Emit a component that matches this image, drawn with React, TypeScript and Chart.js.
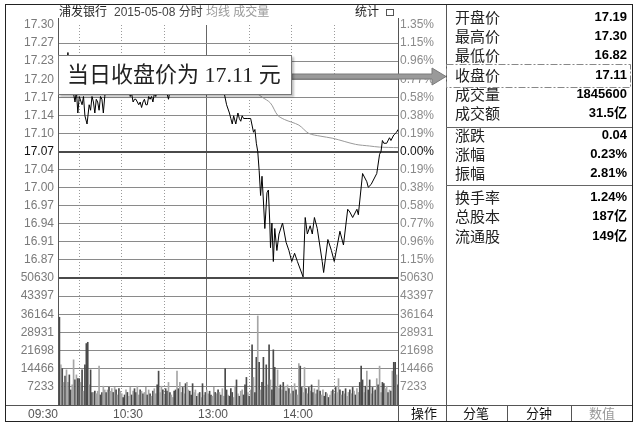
import React, { useEffect, useRef } from 'react';
import { Chart, registerables } from 'chart.js';

Chart.register(...registerables);

const stockName = '浦发银行';
const headerDate = '2015-05-08 分时';
const headerExtra = '均线 成交量';
const headerRight = '统计';
const prevClose = 17.07;
const priceMax = 17.3;
const priceMin = 16.84;
const priceTickLabels = ['17.30', '17.27', '17.23', '17.20', '17.17', '17.14', '17.10', '17.07', '17.04', '17.00', '16.97', '16.94', '16.91', '16.87'];
const pctTickLabels = ['1.35%', '1.15%', '0.96%', '0.77%', '0.58%', '0.38%', '0.19%', '0.00%', '0.19%', '0.38%', '0.58%', '0.77%', '0.96%', '1.15%'];
const volumeMax = 50630;
const volumeTickValues = [50630, 43397, 36164, 28931, 21698, 14466, 7233];
const timeGridMinutes = [0, 30, 60, 90, 120, 150, 180, 210, 240];
const timeTickMinutes = [0, 60, 120, 180];
const timeTickLabels = ['09:30', '10:30', '13:00', '14:00'];

const priceMinutes = [0, 2, 4, 6, 7, 8, 10, 12, 13, 14, 15, 17, 18, 19, 20.5, 22, 23, 24, 25, 26, 27, 28, 29, 30, 31, 32, 33, 34, 36, 38, 40, 43, 46, 49, 50, 51, 52, 53, 54, 55, 56, 57, 58, 59, 60, 61, 62, 63, 64, 65, 66, 67, 68, 69, 70, 73, 76, 78, 79, 82, 86, 90, 94, 98, 102, 106, 110, 114, 117, 119, 121, 122, 123, 124, 125.5, 127, 128, 129, 130, 131, 134, 136, 138, 139, 140, 141, 142, 143, 144, 145, 146, 147.5, 148.5, 149.5, 150, 151, 152, 153, 154.5, 156, 158.5, 161, 163, 165, 167, 169, 173, 174.5, 176, 178, 179.5, 181, 183, 186.5, 187.5, 190.5, 193, 195, 199, 201.5, 204.5, 206, 208, 210, 211, 212, 215, 218, 219, 221, 223, 225, 227, 228, 229, 230, 232, 234, 235, 237, 239, 240];
const priceValues = [17.25, 17.23, 17.21, 17.22, 17.25, 17.22, 17.19, 17.16, 17.18, 17.14, 17.17, 17.155, 17.17, 17.135, 17.12, 17.155, 17.145, 17.17, 17.16, 17.14, 17.165, 17.16, 17.145, 17.17, 17.165, 17.14, 17.17, 17.19, 17.2, 17.19, 17.205, 17.19, 17.2, 17.19, 17.18, 17.17, 17.175, 17.16, 17.165, 17.165, 17.16, 17.155, 17.16, 17.15, 17.16, 17.165, 17.155, 17.155, 17.17, 17.165, 17.17, 17.16, 17.175, 17.17, 17.18, 17.19, 17.185, 17.165, 17.18, 17.19, 17.2, 17.195, 17.2, 17.19, 17.195, 17.2, 17.19, 17.195, 17.18, 17.155, 17.14, 17.13, 17.12, 17.135, 17.12, 17.14, 17.13, 17.125, 17.135, 17.13, 17.13, 17.13, 17.105, 17.11, 17.085, 17.07, 17.035, 16.99, 17.025, 16.98, 16.93, 16.995, 17.0, 16.94, 16.895, 16.94, 16.87, 16.93, 16.89, 16.92, 16.94, 16.905, 16.89, 16.87, 16.885, 16.87, 16.842, 16.95, 16.92, 16.935, 16.92, 16.95, 16.93, 16.87, 16.85, 16.91, 16.89, 16.87, 16.925, 16.9, 16.965, 16.96, 16.95, 16.96, 16.965, 16.955, 17.03, 17.015, 17.005, 17.01, 17.02, 17.03, 17.065, 17.07, 17.09, 17.085, 17.085, 17.095, 17.09, 17.1, 17.105, 17.11];

const avgMinutes = [0, 10, 30, 60, 120, 130, 136, 140, 144, 150, 155, 160, 170, 177, 185, 194, 210, 220, 227, 240];
const avgValues = [17.22, 17.2, 17.19, 17.185, 17.183, 17.182, 17.18, 17.176, 17.169, 17.158, 17.136, 17.128, 17.118, 17.103, 17.098, 17.094, 17.083, 17.08, 17.078, 17.077];

const volumes = [
  46000, 35000, 16000, 14500, 9000, 11500, 14000, 9000, 12000, 6000, 8000, 18000, 10000, 12000, 10500, 10500, 9000, 14000, 5500, 16000,
  24500, 25000, 8000, 14000, 5000, 5000, 5500, 4500, 5500, 15500, 4000, 5000, 7500, 6000, 5000, 6000, 7000, 5500, 6500, 5000,
  7000, 6000, 4000, 6500, 5500, 4500, 3000, 4000, 6000, 5000, 3500, 7000, 4000, 5500, 6500, 5000, 7500, 4000, 6000, 5500,
  4500, 5000, 7000, 4000, 6000, 4500, 3500, 5500, 6500, 4500, 8000, 13500, 5000, 7500, 6000, 4000, 6500, 5500, 9000, 5000,
  4000, 3000, 5500, 6000, 13500, 6500, 9000, 5000, 7000, 4500, 8500, 9000, 6000, 5500, 4000, 8500, 5000, 6000, 3500, 4500,
  5000, 3000, 8500, 4000, 5000, 6000, 4500, 5500, 4000, 3500, 7000, 5000, 4500, 6000, 5000, 4000, 6500, 3500, 14500, 6000,
  4000, 3500, 6500, 5000, 3000, 7500, 10000, 4500, 3500, 5500, 6000, 4000, 8000, 11000, 5000, 3500, 6000, 24000, 11000, 5000,
  19000, 35500, 17000, 6000, 9000, 19000, 7000, 16000, 8000, 24000, 10000, 6000, 22000, 15000, 7000, 14000, 6500, 8000, 6000, 9000,
  7500, 5500, 8000, 6500, 4500, 7000, 5500, 8500, 6000, 4000, 16500, 15500, 7000, 5000, 15000, 6500, 4500, 7000, 5500, 8000,
  5000, 6500, 4500, 6000, 10000, 5500, 4000, 6000, 3500, 5000, 4500, 3000, 4000, 5500, 6000, 4500, 7000, 5000, 10500, 6000,
  4000, 5500, 4500, 6500, 3500, 5000, 6000, 4500, 7000, 5500, 4000, 6500, 5000, 9000, 15500, 10000, 5000, 7500, 13500, 6000,
  10000, 4500, 7000, 5500, 6000, 10500, 8000, 15500, 5000, 9000, 8500, 6500, 7500, 5000, 6000, 5500, 13500, 17000, 17000, 12000, 8000,
];
// d = tick traded down (dark bar), l = tick traded up (light bar)
const volumeTone =
  'ddldldllddlldlddldld' + 'ddlddldlllddlldldlld' + 'ldldllddldlldlddlldl' + 'dlldldldllddlldlddld' +
  'llddldlldldlldddlldl' + 'dldldllddlldldldlldd' + 'ldddlldldlldddldldld' + 'dldlddldldldddllldld' +
  'ldldlldldllddlldldld' + 'dlldldllddldlldldlld' + 'ldldlldldldlldddldld' + 'dldldldllddlldldlddld';

const infoGroup1Labels = ['开盘价', '最高价', '最低价', '收盘价', '成交量', '成交额'];
const infoGroup1Values = ['17.19', '17.30', '16.82', '17.11', '1845600', '31.5亿'];
const infoGroup2Labels = ['涨跌', '涨幅', '振幅'];
const infoGroup2Values = ['0.04', '0.23%', '2.81%'];
const infoGroup3Labels = ['换手率', '总股本', '流通股'];
const infoGroup3Values = ['1.24%', '187亿', '149亿'];
const bottomTabs = ['操作', '分笔', '分钟', '数值'];
const closeNote = '当日收盘价为 17.11 元';

const SANS = '"Liberation Sans", "Noto Sans CJK SC", sans-serif';
const CJK = '"Noto Sans CJK SC", sans-serif';
const SERIF = '"Liberation Serif", "Noto Sans CJK SC", serif';

const priceStep = (priceMax - priceMin) / 14;
const priceTickValues = priceTickLabels.map((_, i) => priceMax - i * priceStep);

function seg(c: CanvasRenderingContext2D, x1: number, y1: number, x2: number, y2: number) {
  c.beginPath();
  c.moveTo(x1, y1);
  c.lineTo(x2, y2);
  c.stroke();
}

const decor = {
  id: 'decor',
  beforeDraw(chart: any) {
    const c = chart.ctx;
    c.save();
    c.fillStyle = '#ffffff';
    c.fillRect(0, 0, chart.width, chart.height);
    c.restore();
  },
  afterDraw(chart: any) {
    const c: CanvasRenderingContext2D = chart.ctx;
    const { left, right, bottom } = chart.chartArea;
    const FR = 632;
    c.save();
    // frame lines of plot
    c.strokeStyle = '#555';
    c.lineWidth = 1;
    seg(c, left + 0.5, 18, left + 0.5, bottom);
    seg(c, right + 0.5, 18, right + 0.5, 421);
    seg(c, 5, bottom + 0.5, FR, bottom + 0.5);
    // info panel
    seg(c, 446.5, 4, 446.5, 421);
    c.strokeStyle = '#666';
    seg(c, 446, 127.5, FR, 127.5);
    seg(c, 446, 185.5, FR, 185.5);
    // bottom tab separators
    c.strokeStyle = '#555';
    seg(c, 507.5, bottom, 507.5, 421);
    seg(c, 571.5, bottom, 571.5, 421);
    // outer frame
    c.strokeStyle = '#222';
    c.strokeRect(5.5, 4.5, FR - 5, 417);

    // header
    c.textBaseline = 'middle';
    c.textAlign = 'left';
    c.font = '12px ' + SANS;
    c.fillStyle = '#222';
    c.fillText(stockName, 59, 13);
    c.fillStyle = '#444';
    c.fillText(headerDate, 114, 13);
    c.fillStyle = '#999';
    c.fillText(headerExtra, 206, 13);
    c.fillStyle = '#222';
    c.fillText(headerRight, 355, 13);
    c.strokeStyle = '#555';
    c.strokeRect(386.5, 9.5, 7, 6);

    // info panel text
    const drawGroup = (labels: string[], values: string[], ys: number[]) => {
      labels.forEach((lab, i) => {
        c.textAlign = 'left';
        c.font = '15px ' + CJK;
        c.fillStyle = '#222';
        c.fillText(lab, 455, ys[i]);
        c.textAlign = 'right';
        c.font = 'bold 13px ' + SANS;
        c.fillStyle = '#000';
        c.fillText(values[i], 627, ys[i]);
      });
    };
    drawGroup(infoGroup1Labels, infoGroup1Values, [17, 36, 55, 75, 94, 113]);
    drawGroup(infoGroup2Labels, infoGroup2Values, [135, 154, 173]);
    drawGroup(infoGroup3Labels, infoGroup3Values, [197, 216, 236]);

    // dash-dot box around close row
    c.setLineDash([7, 2, 2, 2]);
    c.strokeStyle = '#888';
    c.strokeRect(446.5, 64.5, 184, 23);
    c.setLineDash([]);

    // bottom tabs
    c.font = '13px ' + CJK;
    c.textAlign = 'center';
    const tabX = [424, 476, 539, 602];
    bottomTabs.forEach((t, i) => {
      c.fillStyle = i === 3 ? '#999' : '#111';
      c.fillText(t, tabX[i], 413);
    });

    // arrow from note to close row
    c.fillStyle = '#9a9a9a';
    c.strokeStyle = '#7a7a7a';
    c.beginPath();
    c.moveTo(292, 74);
    c.lineTo(432, 74);
    c.lineTo(432, 68);
    c.lineTo(446, 76.5);
    c.lineTo(432, 85);
    c.lineTo(432, 79);
    c.lineTo(292, 79);
    c.closePath();
    c.fill();
    c.stroke();

    // note box
    c.shadowColor = 'rgba(0,0,0,0.25)';
    c.shadowOffsetX = 2;
    c.shadowOffsetY = 2;
    c.shadowBlur = 2;
    c.fillStyle = '#ffffff';
    c.fillRect(58, 55, 234, 40);
    c.shadowColor = 'transparent';
    c.strokeStyle = '#777';
    c.strokeRect(58.5, 55.5, 233, 39);
    c.font = '22px ' + SERIF;
    c.fillStyle = '#222';
    c.textAlign = 'left';
    c.fillText(closeNote, 67, 76);
    c.restore();
  },
};

export default function App() {
  const ref = useRef<HTMLCanvasElement | null>(null);
  useEffect(() => {
    if (!ref.current) return;
    const tickFont = { size: 12, family: SANS };
    const chart = new Chart(ref.current, {
      type: 'line',
      data: {
        datasets: [
          {
            type: 'line',
            label: '价格',
            data: priceMinutes.map((m, i) => ({ x: m, y: priceValues[i] })),
            xAxisID: 'x',
            yAxisID: 'yP',
            borderColor: '#000',
            borderWidth: 1,
            pointRadius: 0,
            tension: 0,
            order: 1,
          },
          {
            type: 'line',
            label: '均线',
            data: avgMinutes.map((m, i) => ({ x: m, y: avgValues[i] })),
            xAxisID: 'x',
            yAxisID: 'yP',
            borderColor: '#9a9a9a',
            borderWidth: 1,
            pointRadius: 0,
            tension: 0.3,
            order: 2,
          },
          {
            type: 'bar',
            label: '成交量',
            data: volumes.map((v, i) => ({ x: i, y: v })),
            xAxisID: 'x',
            yAxisID: 'yV',
            backgroundColor: volumes.map((_, i) => (volumeTone[i] === 'l' ? '#a6a6a6' : '#4a4a4a')),
            barThickness: 1,
            order: 3,
          } as any,
        ],
      },
      options: {
        responsive: false,
        maintainAspectRatio: false,
        animation: false,
        devicePixelRatio: 1,
        layout: { padding: { top: 25, left: 0, right: 0, bottom: 0 } },
        plugins: { legend: { display: false }, tooltip: { enabled: false } },
        scales: {
          x: {
            type: 'linear',
            min: 0,
            max: 240,
            offset: false,
            position: 'bottom',
            afterBuildTicks: (s: any) => {
              s.ticks = timeGridMinutes.map((v) => ({ value: v }));
            },
            afterFit: (s: any) => {
              s.height = 18;
            },
            ticks: {
              autoSkip: false,
              maxRotation: 0,
              align: 'end',
              padding: 2,
              font: tickFont,
              color: '#555',
              callback: (v: any) => {
                const k = timeTickMinutes.indexOf(Number(v));
                return k >= 0 ? timeTickLabels[k] : '';
              },
            },
            grid: {
              drawTicks: false,
              color: (ctx: any) => {
                const v = ctx.tick ? ctx.tick.value : -1;
                if (v === 0 || v === 240) return 'rgba(0,0,0,0)';
                return v === 120 ? '#666' : '#9a9a9a';
              },
              lineWidth: 1,
            },
            border: {
              display: false,
              dash: (ctx: any) => (ctx.tick && ctx.tick.value !== 120 ? [1, 2] : []),
            },
          },
          yP: {
            type: 'linear',
            position: 'left',
            stack: 'main',
            stackWeight: 253,
            weight: 1,
            min: priceMin,
            max: priceMax,
            afterBuildTicks: (s: any) => {
              s.ticks = priceTickValues.map((v) => ({ value: v }));
            },
            afterFit: (s: any) => {
              s.width = 58;
            },
            ticks: {
              autoSkip: false,
              padding: 4,
              font: tickFont,
              color: (ctx: any) => (ctx.index === 7 ? '#111' : '#7a7a7a'),
              callback: (_v: any, i: number) => priceTickLabels[i],
            },
            grid: {
              drawTicks: false,
              color: (ctx: any) => (ctx.index === 7 ? '#4a4a4a' : ctx.index === 0 ? 'rgba(0,0,0,0)' : '#8a8a8a'),
              lineWidth: (ctx: any) => (ctx.index === 7 ? 2 : 1),
            },
            border: { display: false },
          },
          yV: {
            type: 'linear',
            position: 'left',
            stack: 'main',
            stackWeight: 127,
            weight: 0,
            min: 0,
            max: volumeMax,
            afterBuildTicks: (s: any) => {
              s.ticks = volumeTickValues.map((v) => ({ value: v }));
            },
            afterFit: (s: any) => {
              s.width = 58;
            },
            ticks: {
              autoSkip: false,
              padding: 4,
              font: tickFont,
              color: '#7a7a7a',
              callback: (_v: any, i: number) => String(volumeTickValues[i]),
            },
            grid: {
              drawTicks: false,
              color: (ctx: any) => (ctx.index === 0 ? '#4a4a4a' : '#8a8a8a'),
              lineWidth: (ctx: any) => (ctx.index === 0 ? 2 : 1),
            },
            border: { display: false },
          },
          yPR: {
            type: 'linear',
            position: 'right',
            stack: 'main',
            stackWeight: 253,
            weight: 0,
            min: priceMin,
            max: priceMax,
            afterBuildTicks: (s: any) => {
              s.ticks = priceTickValues.map((v) => ({ value: v }));
            },
            afterFit: (s: any) => {
              s.width = 242;
            },
            ticks: {
              autoSkip: false,
              padding: 2,
              font: tickFont,
              color: (ctx: any) => (ctx.index === 7 ? '#111' : '#8a8a8a'),
              callback: (_v: any, i: number) => pctTickLabels[i],
            },
            grid: { display: false, drawTicks: false },
            border: { display: false },
          },
          yVR: {
            type: 'linear',
            position: 'right',
            stack: 'main',
            stackWeight: 127,
            weight: 1,
            min: 0,
            max: volumeMax,
            afterBuildTicks: (s: any) => {
              s.ticks = volumeTickValues.map((v) => ({ value: v }));
            },
            afterFit: (s: any) => {
              s.width = 242;
            },
            ticks: {
              autoSkip: false,
              padding: 2,
              font: tickFont,
              color: '#8a8a8a',
              callback: (_v: any, i: number) => String(volumeTickValues[i]),
            },
            grid: { display: false, drawTicks: false },
            border: { display: false },
          },
        },
      } as any,
      plugins: [decor],
    });
    return () => chart.destroy();
  }, []);
  return (
    <div style={{ position: 'absolute', left: 0, top: 0, width: 640, height: 423, background: '#fff' }}>
      <canvas ref={ref} width={640} height={423} style={{ display: 'block', width: 640, height: 423 }} />
    </div>
  );
}
